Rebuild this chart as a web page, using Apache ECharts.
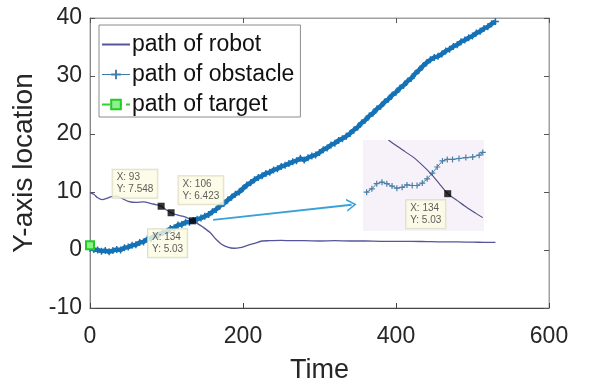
<!DOCTYPE html>
<html>
<head>
<meta charset="utf-8">
<script src="https://cdn.jsdelivr.net/npm/echarts@6/dist/echarts.min.js"></script>
<style>
  html, body { margin: 0; padding: 0; background: #fff; }
  #chart { width: 611px; height: 381px; }
</style>
</head>
<body>
<div id="chart"></div>
<script>
// Robot trajectory (time, y)
const robotTime = [0, 5, 10, 16, 22, 28, 35, 42, 50, 60, 70, 80, 87, 93, 100, 106, 115, 122, 128, 134,
  140, 147, 157, 165, 172, 180, 188, 196, 205, 215, 225, 235, 250, 265, 280, 300, 320, 340, 360, 380,
  400, 420, 440, 460, 480, 500, 515, 530];
const robotY = [9.9, 9.6, 9.0, 8.7, 8.9, 9.2, 9.3, 8.9, 8.4, 8.2, 8.3, 8.0, 7.8, 7.548, 6.9, 6.423, 6.0, 5.8, 5.5, 5.03,
  4.6, 4.0, 3.0, 1.8, 1.0, 0.5, 0.3, 0.4, 0.75, 1.15, 1.55, 1.6, 1.65, 1.6, 1.6, 1.55, 1.6, 1.55, 1.55, 1.5,
  1.5, 1.5, 1.45, 1.4, 1.4, 1.35, 1.32, 1.3];

// Obstacle trajectory, sampled every 5 time units
const obstacleTime = [0, 5, 10, 15, 20, 25, 30, 35, 40, 45, 50, 55, 60, 65, 70, 75, 80, 85, 90, 95,
  100, 105, 110, 115, 120, 125, 130, 135, 140, 145, 150, 155, 160, 165, 170, 175, 180, 185, 190, 195,
  200, 205, 210, 215, 220, 225, 230, 235, 240, 245, 250, 255, 260, 265, 270, 275, 280, 285, 290, 295,
  300, 305, 310, 315, 320, 325, 330, 335, 340, 345, 350, 355, 360, 365, 370, 375, 380, 385, 390, 395,
  400, 405, 410, 415, 420, 425, 430, 435, 440, 445, 450, 455, 460, 465, 470, 475, 480, 485, 490, 495,
  500, 505, 510, 515, 520, 525, 530];
const obstacleY = [0.3, 0.1, 0.0, -0.2, -0.1, -0.3, -0.1, 0.1, 0.0, 0.4, 0.5, 0.8, 0.9, 1.3, 1.4, 1.9, 2.0, 2.5, 2.6, 3.0,
  3.1, 3.7, 3.8, 4.3, 4.4, 4.8, 4.8, 5.1, 5.3, 5.5, 5.8, 6.1, 6.6, 7.0, 7.6, 8.0, 8.6, 9.1, 9.6, 10.0,
  10.6, 11.2, 11.6, 12.1, 12.5, 12.8, 13.2, 13.4, 13.8, 14.0, 14.4, 14.6, 14.9, 15.2, 15.4, 15.8, 15.5, 15.9, 16.2, 16.4,
  16.8, 17.3, 17.6, 18.1, 18.4, 18.9, 19.2, 19.6, 20.1, 20.7, 21.2, 21.9, 22.4, 23.1, 23.6, 24.3, 24.8, 25.5, 26.0, 26.7,
  27.2, 27.9, 28.4, 29.1, 29.6, 30.4, 31.0, 31.7, 32.3, 32.8, 33.2, 33.4, 33.8, 34.3, 34.6, 35.1, 35.4, 35.9, 36.2, 36.6,
  36.9, 37.4, 37.7, 38.2, 38.5, 39.0, 39.4];

// Target position
const targetTime = [0];
const targetY = [0.8];

// Data tips on the robot path
const tipTime = [93, 106, 134];
const tipY = [7.548, 6.423, 5.03];

// Magnified view around the crossing
const zoomRobotTime = [119.3, 121.4, 123.5, 125.6, 127.7, 129.8, 131.8, 134, 136.4, 138.9, 141, 142.7];
const zoomRobotY = [6.8, 6.6, 6.41, 6.22, 5.97, 5.69, 5.38, 5.03, 4.8, 4.56, 4.38, 4.24];
const zoomObstacleTime = [113.9, 115.2, 116.4, 117.7, 118.9, 120.2, 121.4, 122.7, 123.9, 125.2, 126.4, 127.7,
  128.9, 130.2, 131.4, 132.7, 133.9, 135.2, 136.8, 138.5, 140.2, 141.8, 142.7];
const zoomObstacleY = [5.08, 5.19, 5.36, 5.41, 5.36, 5.28, 5.21, 5.24, 5.32, 5.3, 5.3, 5.38,
  5.52, 5.71, 5.91, 6.11, 6.16, 6.16, 6.19, 6.22, 6.24, 6.3, 6.39];

// Pointer arrow from the crossing to the magnified view (time, y)
const arrowFrom = [161, 5.2];
const arrowTo = [342, 7.8];

const zip = (a, b) => a.map((v, i) => [v, b[i]]);

const FONT = 'Liberation Sans, Arial, sans-serif';
const robotColor = '#55559a';
const obstacleColor = '#1572b6';
const crossPath = 'path://M4,0H6V4H10V6H6V10H4V6H0V4H4Z';
const chevronPath = 'path://M0,10L5,0L10,10L8.6,10L5,2.8L1.4,10Z';

const tipLabel = {
  show: true,
  formatter: p => 'X: ' + p.value[0] + '\nY: ' + p.value[1],
  fontFamily: FONT,
  fontSize: 10,
  lineHeight: 12,
  color: '#333',
  align: 'left',
  backgroundColor: '#fbfbe4',
  borderColor: '#d6d6bc',
  borderWidth: 1,
  padding: [2, 4, 2, 4]
};
const withPos = (pos, va) => Object.assign({}, tipLabel, { position: pos, verticalAlign: va });

const chart = echarts.init(document.getElementById('chart'), null, { renderer: 'canvas' });

chart.setOption({
  animation: false,
  backgroundColor: '#ffffff',
  textStyle: { fontFamily: FONT },
  grid: [
    { left: 90, right: 62, top: 18, bottom: 73, outerBoundsMode: 'none', containLabel: false,
      show: true, borderColor: '#a0a0a0', borderWidth: 1, backgroundColor: 'transparent' },
    { left: 363, top: 140, width: 121, height: 91, outerBoundsMode: 'none', containLabel: false,
      show: true, borderWidth: 0, backgroundColor: '#f7f2fa' }
  ],
  legend: {
    orient: 'vertical',
    left: 99,
    top: 25,
    padding: [8, 6, 1, 2],
    itemGap: 7,
    itemWidth: 28,
    itemHeight: 12,
    backgroundColor: '#ffffff',
    borderColor: '#8c8c8c',
    borderWidth: 1,
    textStyle: { fontFamily: FONT, fontSize: 23, color: '#111', padding: [0, 0, 0, -3] },
    data: [
      { name: 'path of robot', itemStyle: { opacity: 0 } },
      { name: 'path of obstacle', lineStyle: { width: 1, color: '#3f7fa8' }, itemStyle: { color: '#3f7fa8' } },
      { name: 'path of target' }
    ]
  },
  xAxis: [
    {
      gridIndex: 0, type: 'value', min: 0, max: 600, interval: 200,
      name: 'Time', nameLocation: 'middle', nameGap: 49,
      nameTextStyle: { fontFamily: FONT, fontSize: 27, color: '#262626' },
      axisLine: { show: true, onZero: false, lineStyle: { color: '#444', width: 1 } },
      axisTick: { show: true, inside: true, length: 5, lineStyle: { color: '#444' } },
      axisLabel: { fontFamily: FONT, fontSize: 23, color: '#262626', margin: 17 },
      splitLine: { show: false }
    },
    {
      gridIndex: 0, type: 'value', min: 0, max: 600, interval: 200, position: 'top',
      axisLine: { show: true, onZero: false, lineStyle: { color: '#a0a0a0' } },
      axisTick: { show: true, inside: true, length: 5, lineStyle: { color: '#555' } },
      axisLabel: { show: false },
      splitLine: { show: false }
    },
    { gridIndex: 1, type: 'value', min: 113, max: 143, show: false }
  ],
  yAxis: [
    {
      gridIndex: 0, type: 'value', min: -10, max: 40, interval: 10,
      name: 'Y-axis location', nameLocation: 'middle', nameGap: 52,
      nameTextStyle: { fontFamily: FONT, fontSize: 28, color: '#262626' },
      axisLine: { show: true, onZero: false, lineStyle: { color: '#888', width: 1 } },
      axisTick: { show: true, inside: true, length: 5, lineStyle: { color: '#555' } },
      axisLabel: { fontFamily: FONT, fontSize: 23, color: '#262626', margin: 8 },
      splitLine: { show: false }
    },
    {
      gridIndex: 0, type: 'value', min: -10, max: 40, interval: 10, position: 'right',
      axisLine: { show: true, onZero: false, lineStyle: { color: '#a0a0a0' } },
      axisTick: { show: true, inside: true, length: 5, lineStyle: { color: '#555' } },
      axisLabel: { show: false },
      splitLine: { show: false }
    },
    { gridIndex: 1, type: 'value', min: 3.8, max: 6.8, show: false }
  ],
  series: [
    {
      name: 'path of robot', type: 'line', xAxisIndex: 0, yAxisIndex: 0,
      data: zip(robotTime, robotY),
      symbol: 'none', smooth: 0.3,
      lineStyle: { color: robotColor, width: 1.3 },
      itemStyle: { color: robotColor },
      z: 3
    },
    {
      name: 'path of obstacle', type: 'line', xAxisIndex: 0, yAxisIndex: 0,
      data: zip(obstacleTime, obstacleY),
      symbol: crossPath, symbolSize: 7, showAllSymbol: true,
      lineStyle: { color: obstacleColor, width: 4.5 },
      itemStyle: { color: obstacleColor },
      z: 2
    },
    {
      name: 'path of target', type: 'line', xAxisIndex: 0, yAxisIndex: 0,
      data: zip(targetTime, targetY),
      symbol: 'rect', symbolSize: 8, showSymbol: true,
      lineStyle: { color: '#2fd12f', width: 1.5, type: 'dashed' },
      itemStyle: { color: '#8ff08f', borderColor: '#22cc22', borderWidth: 2 },
      z: 5
    },
    {
      name: 'tips', type: 'scatter', xAxisIndex: 0, yAxisIndex: 0,
      data: [
        { value: [tipTime[0], tipY[0]], label: withPos([-45, -5], 'bottom') },
        { value: [tipTime[1], tipY[1]], label: withPos([11, -5], 'bottom') },
        { value: [tipTime[2], tipY[2]], label: withPos([-41, 12], 'top') }
      ],
      symbol: 'rect', symbolSize: 7,
      itemStyle: { color: '#000' },
      z: 6,
      markLine: {
        silent: true,
        symbol: ['none', chevronPath],
        symbolSize: [13, 10],
        label: { show: false },
        lineStyle: { color: '#3aa1d8', width: 1.8, type: 'solid' },
        data: [[{ coord: arrowFrom }, { coord: arrowTo }]]
      }
    },
    {
      name: 'zoom robot', type: 'line', xAxisIndex: 2, yAxisIndex: 2,
      data: zip(zoomRobotTime, zoomRobotY),
      symbol: 'none', smooth: 0.3,
      lineStyle: { color: '#4d4d80', width: 1.1 },
      z: 3
    },
    {
      name: 'zoom obstacle', type: 'line', xAxisIndex: 2, yAxisIndex: 2,
      data: zip(zoomObstacleTime, zoomObstacleY),
      symbol: crossPath, symbolSize: 6, showAllSymbol: true,
      lineStyle: { color: '#4a7fa6', width: 1 },
      itemStyle: { color: '#4a7fa6' },
      z: 2
    },
    {
      name: 'zoom tip', type: 'scatter', xAxisIndex: 2, yAxisIndex: 2,
      data: [
        { value: [tipTime[2], tipY[2]], label: withPos([-38, 10], 'top') }
      ],
      symbol: 'rect', symbolSize: 7,
      itemStyle: { color: '#000' },
      z: 6
    }
  ]
});
</script>
</body>
</html>
